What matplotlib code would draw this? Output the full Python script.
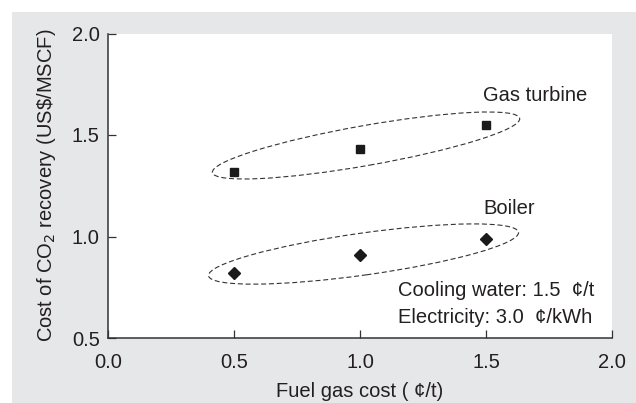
import numpy as np
import matplotlib
matplotlib.use("Agg")
import matplotlib.pyplot as plt
from matplotlib.patches import Ellipse, Rectangle
from matplotlib.transforms import ScaledTranslation

plt.rcParams['font.family'] = ['Liberation Sans', 'DejaVu Sans']

# data
fuel_cost = [0.5, 1.0, 1.5]
gas_turbine = [1.32, 1.43, 1.55]
boiler = [0.82, 0.91, 0.99]
ticks = [0.0, 0.5, 1.0, 1.5, 2.0]
yticks = [0.5, 1.0, 1.5, 2.0]

text_col = '#231f20'
bg_col = '#e6e7e8'
fs = 14.5

fig = plt.figure(figsize=(6.36, 4.03), dpi=100)
fig.patch.set_facecolor('white')
# gray panel behind the plot
fig.patches.append(Rectangle((12 / 636, 0), 1, 1 - 12 / 403, transform=fig.transFigure,
                             facecolor=bg_col, edgecolor='none', zorder=-10))

ax = fig.add_axes([108 / 636, 65 / 403, 504 / 636, 304.5 / 403])
ax.set_facecolor('white')
ax.set_xlim(0, 2.0)
ax.set_ylim(0.5, 2.0)

ax.plot(fuel_cost, gas_turbine, 's', color='#1a1a1a', ms=6, zorder=3)
ax.plot(fuel_cost, boiler, 'D', color='#1a1a1a', ms=6, zorder=3)


def group_ellipse(xs, ys, dx, dy, w, h, angle):
    """dashed ellipse round a group, sized in inches"""
    cx = np.mean(xs) + dx
    cy = np.mean(ys) + dy
    tr = fig.dpi_scale_trans + ScaledTranslation(cx, cy, ax.transData)
    e = Ellipse((0, 0), w, h, angle=angle, transform=tr, fill=False,
                edgecolor='#333333', lw=0.8, linestyle=(0, (4.5, 2.5)))
    ax.add_patch(e)


group_ellipse(fuel_cost, gas_turbine, 0.024, 0.015, 3.12, 0.40, 10)
group_ellipse(fuel_cost, boiler, 0.014, 0.007, 3.13, 0.42, 8)

ax.text(1.488, 1.697, 'Gas turbine', fontsize=fs, color=text_col, va='center', ha='left')
ax.text(1.488, 1.140, 'Boiler', fontsize=fs, color=text_col, va='center', ha='left')
ax.text(1.151, 0.736, 'Cooling water: 1.5  \u00a2/t', fontsize=fs, color=text_col, va='center')
ax.text(1.151, 0.603, 'Electricity: 3.0  \u00a2/kWh', fontsize=fs, color=text_col, va='center')

for s in ['top', 'right']:
    ax.spines[s].set_visible(False)
for s in ['left', 'bottom']:
    ax.spines[s].set_color('#333333')
    ax.spines[s].set_linewidth(1.1)

ax.set_xticks(ticks)
ax.set_yticks(yticks)
ax.set_xticklabels(['%.1f' % t for t in ticks])
ax.set_yticklabels(['%.1f' % t for t in yticks])
ax.tick_params(axis='both', direction='in', length=6, width=0.9, color='#333333',
               labelsize=fs, labelcolor=text_col)
ax.tick_params(axis='x', pad=11)
ax.tick_params(axis='y', pad=6)

ax.set_xlabel('Fuel gas cost ( \u00a2/t)', fontsize=fs, color=text_col, labelpad=7)
ax.set_ylabel('Cost of CO$_2$ recovery (US\\$/MSCF)', fontsize=fs, color=text_col, labelpad=10)

fig.savefig('out.png', dpi=100, facecolor=fig.get_facecolor())
